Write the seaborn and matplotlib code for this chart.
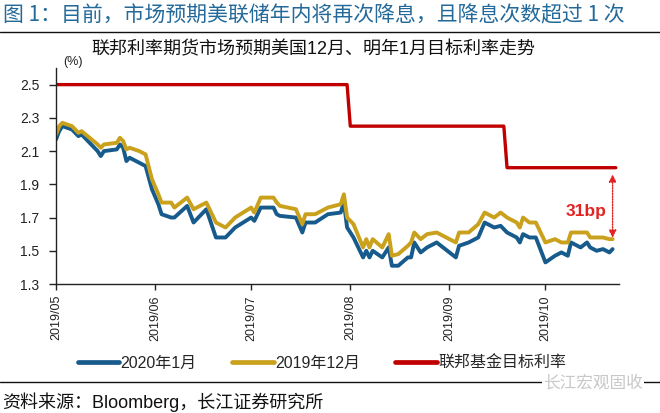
import matplotlib
matplotlib.use("Agg")
import matplotlib.pyplot as plt
from matplotlib.lines import Line2D
import seaborn as sns
import pandas as pd

# ---------------- data ----------------
dates = ["2019-05-01", "2019-05-02", "2019-05-03", "2019-05-06", "2019-05-08", "2019-05-09",
         "2019-05-14", "2019-05-15", "2019-05-16", "2019-05-20", "2019-05-21", "2019-05-22",
         "2019-05-23", "2019-05-24", "2019-05-27", "2019-05-29", "2019-05-31", "2019-06-02",
         "2019-06-03", "2019-06-06", "2019-06-07", "2019-06-11", "2019-06-13", "2019-06-17",
         "2019-06-20", "2019-06-23", "2019-06-26", "2019-07-01", "2019-07-02", "2019-07-04",
         "2019-07-08", "2019-07-09", "2019-07-10", "2019-07-15", "2019-07-17", "2019-07-18",
         "2019-07-21", "2019-07-25", "2019-07-29", "2019-07-30", "2019-07-31", "2019-08-02",
         "2019-08-05", "2019-08-06", "2019-08-07", "2019-08-08", "2019-08-11", "2019-08-13",
         "2019-08-14", "2019-08-16", "2019-08-19", "2019-08-20", "2019-08-21", "2019-08-23",
         "2019-08-25", "2019-08-28", "2019-09-01", "2019-09-03", "2019-09-04", "2019-09-07",
         "2019-09-10", "2019-09-12", "2019-09-15", "2019-09-17", "2019-09-19", "2019-09-22",
         "2019-09-23", "2019-09-24", "2019-09-26", "2019-09-28", "2019-10-01", "2019-10-04",
         "2019-10-06", "2019-10-08", "2019-10-09", "2019-10-12", "2019-10-14", "2019-10-15",
         "2019-10-17", "2019-10-19", "2019-10-21", "2019-10-22"]

dec2019 = [2.20, 2.25, 2.27, 2.25, 2.21, 2.22,
           2.14, 2.12, 2.14, 2.15, 2.18, 2.16,
           2.11, 2.12, 2.10, 2.08, 1.93, 1.84,
           1.79, 1.79, 1.76, 1.82, 1.75, 1.79,
           1.67, 1.64, 1.70, 1.76, 1.73, 1.82,
           1.82, 1.79, 1.77, 1.75, 1.66, 1.72,
           1.72, 1.76, 1.78, 1.84, 1.70, 1.66,
           1.52, 1.57, 1.52, 1.57, 1.52, 1.60,
           1.47, 1.48, 1.53, 1.55, 1.61, 1.57,
           1.60, 1.61, 1.57, 1.55, 1.61, 1.61,
           1.66, 1.73, 1.70, 1.73, 1.70, 1.67,
           1.64, 1.70, 1.67, 1.67, 1.55, 1.57,
           1.55, 1.55, 1.61, 1.61, 1.61, 1.58,
           1.58, 1.58, 1.57, 1.57]

jan2020 = [2.17, 2.22, 2.25, 2.23, 2.19, 2.20,
           2.10, 2.07, 2.10, 2.11, 2.14, 2.12,
           2.04, 2.06, 2.03, 2.01, 1.87, 1.78,
           1.72, 1.70, 1.70, 1.77, 1.67, 1.75,
           1.58, 1.58, 1.64, 1.70, 1.68, 1.76,
           1.76, 1.72, 1.71, 1.70, 1.61, 1.67,
           1.67, 1.72, 1.73, 1.79, 1.64, 1.58,
           1.46, 1.50, 1.46, 1.50, 1.46, 1.52,
           1.41, 1.41, 1.46, 1.46, 1.55, 1.49,
           1.52, 1.55, 1.49, 1.46, 1.53, 1.55,
           1.58, 1.67, 1.64, 1.65, 1.61, 1.58,
           1.55, 1.60, 1.58, 1.58, 1.43, 1.47,
           1.49, 1.47, 1.55, 1.52, 1.55, 1.52,
           1.50, 1.51, 1.49, 1.51]

fed_dates = ["2019-05-01", "2019-07-31", "2019-08-01", "2019-09-18", "2019-09-19", "2019-10-23"]
fed_rate = [2.50, 2.50, 2.25, 2.25, 2.00, 2.00]

xtick_labels = ["2019/05", "2019/06", "2019/07", "2019/08", "2019/09", "2019/10"]
ytick_values = [1.3, 1.5, 1.7, 1.9, 2.1, 2.3, 2.5]

series_names = ["2020年1月", "2019年12月", "联邦基金目标利率"]
title = "图 1：目前，市场预期美联储年内将再次降息，且降息次数超过 1 次"
subtitle = "联邦利率期货市场预期美国12月、明年1月目标利率走势"
source = "资料来源：Bloomberg，长江证券研究所"
gap_label = "31bp"

# ---------------- style ----------------
sns.set_style("white")
plt.rcParams['font.family'] = ['Liberation Sans', 'Noto Sans CJK SC', 'DejaVu Sans']

BLUE = "#175b8c"
GOLD = "#c9a11c"
RED = "#c00000"
ARROW_RED = "#e32222"

fig = plt.figure(figsize=(6.6, 4.13), dpi=100)
ax = fig.add_axes([56/660, 1-284/413, (619-56)/660, (284-68)/413])

d = pd.to_datetime(dates)
fd = pd.to_datetime(fed_dates)

sns.lineplot(x=d, y=jan2020, ax=ax, color=BLUE, lw=2.8, label=series_names[0])
sns.lineplot(x=d, y=dec2019, ax=ax, color=GOLD, lw=2.8, label=series_names[1])
sns.lineplot(x=fd, y=fed_rate, ax=ax, color=RED, lw=2.4, label=series_names[2], sort=False)

ax.set_xlim(pd.Timestamp("2019-05-01"), pd.Timestamp("2019-10-24"))
ax.set_ylim(1.3, 2.6)
ax.set_yticks(ytick_values)
ax.set_yticklabels([f"{v:.1f}" for v in ytick_values])
xt = pd.to_datetime([s.replace("/", "-") + "-01" for s in xtick_labels])
ax.set_xticks(xt)
ax.set_xticklabels(xtick_labels, rotation=90)
ax.set_xlabel("")
ax.set_ylabel("")

for side in ["top", "right"]:
    ax.spines[side].set_visible(False)
for side in ["left", "bottom"]:
    ax.spines[side].set_color("#222222")
    ax.spines[side].set_linewidth(1.0)
ax.tick_params(axis="y", direction="out", length=5, width=1, pad=7, labelsize=10, colors="#222222")
ax.tick_params(axis="x", direction="out", length=4, width=1, pad=4, labelsize=9, colors="#222222")
ax.tick_params(left=True, bottom=True)

ax.text(0.03, 1.0, "(%)", transform=ax.transAxes, ha="center", va="bottom", fontsize=9, color="#222222")

# 31bp annotation
xa = pd.Timestamp("2019-10-22")
ax.annotate("", xy=(xa, 1.96), xytext=(xa, 1.578),
            arrowprops=dict(arrowstyle="<|-|>", linestyle=(0, (1, 1)), color=ARROW_RED,
                            lw=1.0, mutation_scale=11, shrinkA=0, shrinkB=0))
ax.text(pd.Timestamp("2019-10-20"), 1.735, gap_label, ha="right", va="center",
        fontsize=12.5, fontweight="bold", color=ARROW_RED)

# legend
ax.get_legend().remove()
handles = [Line2D([], [], color=BLUE, lw=3.4), Line2D([], [], color=GOLD, lw=3.4),
           Line2D([], [], color=RED, lw=3.4)]
fig.legend(handles, series_names, loc="center", bbox_to_anchor=(322/660, 1-363/413), ncol=3,
           frameon=False, fontsize=11.5, handlelength=2.6, handletextpad=0.1, columnspacing=2.2)

# titles and rules
fig.text(3/660, 1-15/413, title, ha="left", va="center", fontsize=15, color="#23699a",
         family=['Noto Sans CJK SC', 'DejaVu Sans'], fontweight="medium")
fig.add_artist(Line2D([0, 1], [1-32/413, 1-32/413], color="#111111", lw=1.0, transform=fig.transFigure))
fig.text(313/660, 1-50/413, subtitle, ha="center", va="center", fontsize=13, color="#111111")
fig.add_artist(Line2D([0, 1], [1-382/413, 1-382/413], color="#111111", lw=1.0, transform=fig.transFigure))
fig.text(593/660, 1-383/413, "长江宏观固收", ha="center", va="center", fontsize=12, color="#c8c8c8",
         bbox=dict(facecolor="white", edgecolor="none", pad=1))
fig.text(2/660, 1-402/413, source, ha="left", va="center", fontsize=13, color="#111111")

fig.savefig("out.png", dpi=100)
